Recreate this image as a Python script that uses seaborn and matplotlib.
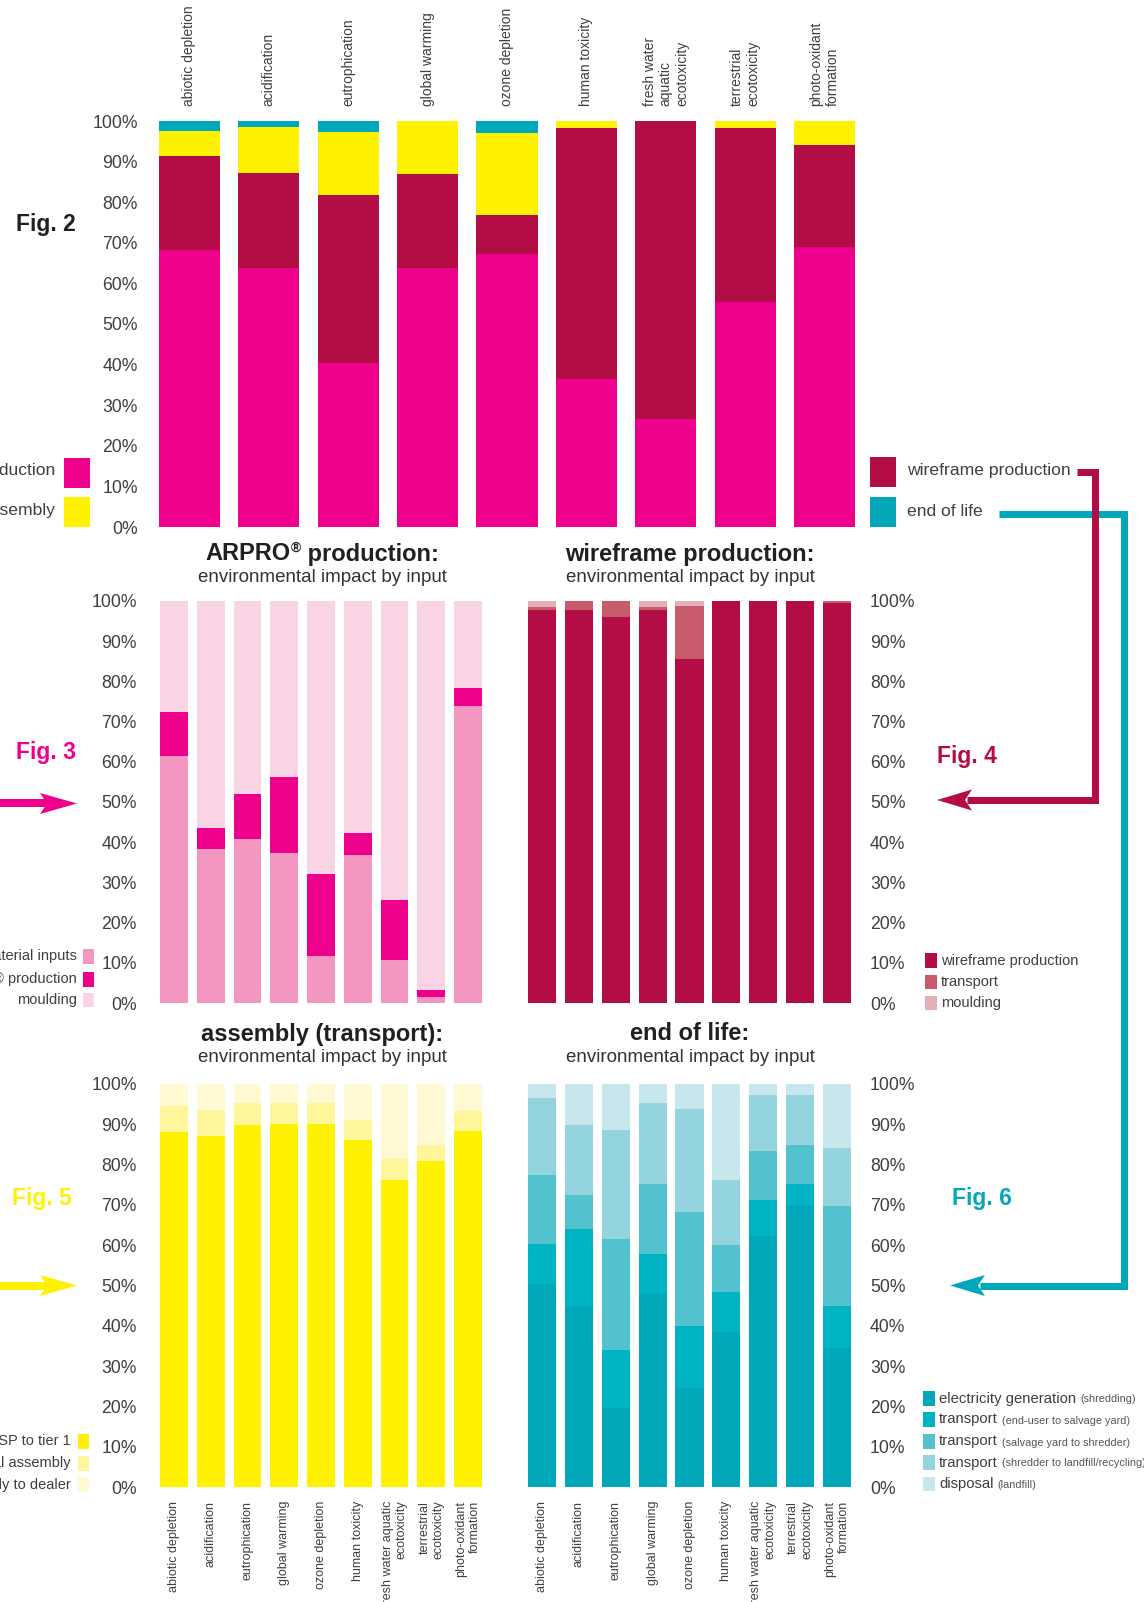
import numpy as np
import pandas as pd
import matplotlib
matplotlib.use("Agg")
import matplotlib.pyplot as plt
import seaborn as sns
from matplotlib.patches import Polygon, Rectangle
from matplotlib.lines import Line2D

# ---------------- data ----------------
categories = ["abiotic depletion", "acidification", "eutrophication", "global warming",
              "ozone depletion", "human toxicity", "fresh water aquatic ecotoxicity",
              "terrestrial ecotoxicity", "photo-oxidant formation"]
top_tick_labels = ["abiotic depletion", "acidification", "eutrophication", "global warming",
                   "ozone depletion", "human toxicity", "fresh water\naquatic\necotoxicity",
                   "terrestrial\necotoxicity", "photo-oxidant\nformation"]
bottom_tick_labels = ["abiotic depletion", "acidification", "eutrophication", "global warming",
                      "ozone depletion", "human toxicity", "fresh water aquatic\necotoxicity",
                      "terrestrial\necotoxicity", "photo-oxidant\nformation"]
y_ticks = [0, 10, 20, 30, 40, 50, 60, 70, 80, 90, 100]
y_tick_labels = [f"{v}%" for v in y_ticks]

# Fig. 2 - overall life cycle (bottom -> top)
fig2_arpro = [68.3, 63.8, 40.5, 63.8, 67.3, 36.5, 26.5, 55.3, 69.0]
fig2_wireframe = [23.0, 23.5, 41.3, 23.2, 9.5, 61.8, 73.5, 43.0, 25.0]
fig2_assembly = [6.2, 11.2, 15.5, 13.0, 20.2, 1.7, 0.0, 1.7, 6.0]
fig2_end_of_life = [2.5, 1.5, 2.7, 0.0, 3.0, 0.0, 0.0, 0.0, 0.0]
fig2_names = ["ARPRO® production", "wireframe production", "assembly", "end of life"]

# Fig. 3 - ARPRO production
fig3_material = [61.5, 38.3, 40.8, 37.2, 11.7, 36.7, 10.6, 1.5, 73.8]
fig3_arpro = [11.0, 5.2, 11.2, 19.0, 20.3, 5.6, 15.1, 1.7, 4.5]
fig3_moulding = [27.5, 56.5, 48.0, 43.8, 68.0, 57.7, 74.3, 96.8, 21.7]
fig3_names = ["material inputs", "ARPRO® production", "moulding"]

# Fig. 4 - wireframe production
fig4_wireframe = [97.8, 97.8, 96.1, 97.8, 85.5, 100.0, 100.0, 100.0, 99.4]
fig4_transport = [0.8, 2.2, 3.9, 0.8, 13.3, 0.0, 0.0, 0.0, 0.6]
fig4_moulding = [1.4, 0.0, 0.0, 1.4, 1.2, 0.0, 0.0, 0.0, 0.0]
fig4_names = ["wireframe production", "transport", "moulding"]

# Fig. 5 - assembly (transport)
fig5_tier1 = [88.0, 87.0, 89.8, 90.0, 90.0, 86.0, 76.3, 81.0, 88.3]
fig5_final = [6.5, 6.5, 5.5, 5.3, 5.3, 5.0, 5.0, 3.8, 5.0]
fig5_dealer = [5.5, 6.5, 4.7, 4.7, 4.7, 9.0, 18.7, 15.2, 6.7]
fig5_names = ["transport JSP to tier 1", "transport tier 1 to final assembly",
              "transport final assembly to dealer"]

# Fig. 6 - end of life
fig6_electricity = [50.3, 44.8, 19.5, 47.8, 24.5, 38.5, 62.3, 70.0, 34.5]
fig6_enduser = [10.0, 19.2, 14.5, 10.0, 15.5, 10.0, 9.0, 5.3, 10.5]
fig6_salvage = [17.0, 8.5, 27.5, 17.5, 28.3, 11.5, 12.0, 9.5, 24.8]
fig6_shredder = [19.2, 17.3, 27.0, 20.0, 25.5, 16.3, 14.0, 12.5, 14.3]
fig6_disposal = [3.5, 10.2, 11.5, 4.7, 6.2, 23.7, 2.7, 2.7, 15.9]
fig6_names = ["electricity generation", "transport", "transport", "transport", "disposal"]
fig6_notes = ["(shredding)", "(end-user to salvage yard)", "(salvage yard to shredder)",
              "(shredder to landfill/recycling)", "(landfill)"]

# ---------------- colours ----------------
MAGENTA = "#EC008C"
CRIMSON = "#B20D45"
YELLOW = "#FFF200"
TEAL = "#00A8B9"
fig2_colors = [MAGENTA, CRIMSON, YELLOW, TEAL]
fig3_colors = ["#F397C0", MAGENTA, "#F9D4E5"]
fig4_colors = [CRIMSON, "#C75B6B", "#E3B1B5"]
fig5_colors = [YELLOW, "#FFF59B", "#FFF9D4"]
fig6_colors = ["#00A7B8", "#00B3C3", "#52C2CE", "#93D4DE", "#C7E7EC"]

TXT = "#3f3f3f"
TITLE = "#231F20"

sns.set_theme(style="white")
plt.rcParams["font.family"] = ["Liberation Sans", "DejaVu Sans"]

W, H = 1144, 1602
fig = plt.figure(figsize=(W / 100, H / 100), dpi=100)
fig.patch.set_facecolor("white")


def px(x, y):
    return x / W, 1 - y / H


def add_ax(l, t, r, b):
    return fig.add_axes([l / W, 1 - b / H, (r - l) / W, (b - t) / H])


def stacked(ax, layers, colors, width):
    cum = np.cumsum(np.array(layers, dtype=float), axis=0)
    for i in range(len(layers) - 1, -1, -1):
        df = pd.DataFrame({"impact": categories, "share": cum[i]})
        sns.barplot(data=df, x="impact", y="share", order=categories, color=colors[i],
                    saturation=1, width=width, linewidth=0, edgecolor="none",
                    errorbar=None, ax=ax)


def style(ax, side="left", pad=10.0):
    ax.set_xlim(-0.5, 8.5)
    ax.set_ylim(0, 100)
    ax.set_xlabel("")
    ax.set_ylabel("")
    for s in ax.spines.values():
        s.set_visible(False)
    ax.grid(False)
    ax.set_facecolor("none")
    ax.set_yticks(y_ticks)
    ax.set_yticklabels(y_tick_labels)
    if side == "right":
        ax.yaxis.tick_right()
    ax.tick_params(axis="y", length=0, pad=pad, labelsize=12.7, labelcolor=TXT)


def ftext(x, y, s, **kw):
    fx, fy = px(x, y)
    return fig.text(fx, fy, s, **kw)


def frect(x0, y0, x1, y1, color):
    fx, fy = px(x0, y1)
    fig.add_artist(Rectangle((fx, fy), (x1 - x0) / W, (y1 - y0) / H,
                             transform=fig.transFigure, facecolor=color,
                             edgecolor="none", linewidth=0))


def fline(pts, color, lw_px):
    xs = [p[0] / W for p in pts]
    ys = [1 - p[1] / H for p in pts]
    fig.add_artist(Line2D(xs, ys, transform=fig.transFigure, color=color,
                          linewidth=lw_px * 0.72, solid_joinstyle="miter",
                          solid_capstyle="butt"))


def fhead(tip, back_x, half_h, notch, color):
    tx, ty = tip
    pts = [(tx, ty), (back_x, ty - half_h), (back_x + notch, ty), (back_x, ty + half_h)]
    fig.add_artist(Polygon([px(*p) for p in pts], closed=True, transform=fig.transFigure,
                           facecolor=color, edgecolor="none"))


# ---------------- Fig. 2 ----------------
ax2 = add_ax(149.8, 121, 864.2, 527)
stacked(ax2, [fig2_arpro, fig2_wireframe, fig2_assembly, fig2_end_of_life], fig2_colors, 0.77)
style(ax2, "left", pad=8.6)
ax2.xaxis.tick_top()
ax2.set_xticks(range(9))
ax2.set_xticklabels(top_tick_labels, rotation=90, ha="center", va="bottom",
                    multialignment="left", fontsize=10, color=TXT)
ax2.tick_params(axis="x", length=0, pad=10.8, labeltop=True, labelbottom=False)

# ---------------- Fig. 3 ----------------
ax3 = add_ax(155.6, 601, 486.4, 1003)
stacked(ax3, [fig3_material, fig3_arpro, fig3_moulding], fig3_colors, 0.76)
style(ax3, "left", pad=13.4)
ax3.set_xticks([])

# ---------------- Fig. 4 ----------------
ax4 = add_ax(523.6, 601, 855.4, 1003)
stacked(ax4, [fig4_wireframe, fig4_transport, fig4_moulding], fig4_colors, 0.76)
style(ax4, "right", pad=10.5)
ax4.set_xticks([])

# ---------------- Fig. 5 ----------------
ax5 = add_ax(155.6, 1084, 486.4, 1487)
stacked(ax5, [fig5_tier1, fig5_final, fig5_dealer], fig5_colors, 0.76)
style(ax5, "left", pad=13.4)
ax5.set_xticks(range(9))
ax5.set_xticklabels(bottom_tick_labels, rotation=90, ha="center", va="top",
                    multialignment="right", fontsize=9, color=TXT)
ax5.tick_params(axis="x", length=0, pad=9.9)

# ---------------- Fig. 6 ----------------
ax6 = add_ax(523.6, 1084, 855.4, 1487)
stacked(ax6, [fig6_electricity, fig6_enduser, fig6_salvage, fig6_shredder, fig6_disposal],
        fig6_colors, 0.76)
style(ax6, "right", pad=10.5)
ax6.set_xticks(range(9))
ax6.set_xticklabels(bottom_tick_labels, rotation=90, ha="center", va="top",
                    multialignment="right", fontsize=9, color=TXT)
ax6.tick_params(axis="x", length=0, pad=9.9)

# ---------------- titles ----------------
# ARPRO title is composed of three pieces (small superscript ®), laid out after measuring
arpro_parts = [
    ftext(0, 554, "ARPRO", ha="left", va="center", fontsize=17, fontweight="bold", color=TITLE),
    ftext(0, 548, "®", ha="left", va="center", fontsize=10, fontweight="bold", color=TITLE),
    ftext(0, 554, " production:", ha="left", va="center", fontsize=17, fontweight="bold",
          color=TITLE),
]
ftext(322, 577, "environmental impact by input", ha="center", va="center",
      fontsize=13.5, color="#333333")
ftext(690, 554, "wireframe production:", ha="center", va="center",
      fontsize=17, fontweight="bold", color=TITLE)
ftext(690, 577, "environmental impact by input", ha="center", va="center",
      fontsize=13.5, color="#333333")
ftext(322, 1034, "assembly (transport):", ha="center", va="center",
      fontsize=17, fontweight="bold", color=TITLE)
ftext(322, 1057, "environmental impact by input", ha="center", va="center",
      fontsize=13.5, color="#333333")
ftext(690, 1034, "end of life:", ha="center", va="center",
      fontsize=17, fontweight="bold", color=TITLE)
ftext(690, 1057, "environmental impact by input", ha="center", va="center",
      fontsize=13.5, color="#333333")

# ---------------- figure labels ----------------
ftext(16, 225, "Fig. 2", ha="left", va="center", fontsize=16.5, fontweight="bold", color=TITLE)
ftext(16, 753, "Fig. 3", ha="left", va="center", fontsize=16.5, fontweight="bold", color=MAGENTA)
ftext(937, 757, "Fig. 4", ha="left", va="center", fontsize=16.5, fontweight="bold", color=CRIMSON)
ftext(12, 1199, "Fig. 5", ha="left", va="center", fontsize=16.5, fontweight="bold", color=YELLOW)
ftext(952, 1199, "Fig. 6", ha="left", va="center", fontsize=16.5, fontweight="bold", color=TEAL)

# ---------------- legends ----------------
# Fig. 2 left
frect(64, 458, 90, 488, fig2_colors[0])
frect(64, 497, 90, 527, fig2_colors[2])
ftext(55, 471, fig2_names[0], ha="right", va="center", fontsize=12.6, color=TXT)
ftext(55, 511, fig2_names[2], ha="right", va="center", fontsize=12.6, color=TXT)
# Fig. 2 right
frect(870, 457, 896, 487, fig2_colors[1])
frect(870, 497, 896, 527, fig2_colors[3])
ftext(907, 471, fig2_names[1], ha="left", va="center", fontsize=12.6, color=TXT)
ftext(907, 511, fig2_names[3], ha="left", va="center", fontsize=12.6, color=TXT)

# Fig. 3 legend
for (y0, y1), c, n in zip([(949, 964), (972, 987), (993, 1007)], fig3_colors, fig3_names):
    frect(83, y0, 94, y1, c)
    ftext(77, (y0 + y1) / 2, n, ha="right", va="center", fontsize=10.5, color=TXT)

# Fig. 4 legend
for (y0, y1), c, n in zip([(953, 968), (975, 989), (996, 1010)], fig4_colors, fig4_names):
    frect(925, y0, 937, y1, c)
    ftext(941, (y0 + y1) / 2, n, ha="left", va="center", fontsize=10.5, color=TXT)

# Fig. 5 legend
for (y0, y1), c, n in zip([(1434, 1449), (1456, 1471), (1477, 1492)], fig5_colors, fig5_names):
    frect(78, y0, 89, y1, c)
    ftext(71, (y0 + y1) / 2, n, ha="right", va="center", fontsize=10.5, color=TXT)

# Fig. 6 legend
fig6_rows = [(1391, 1406), (1412, 1427), (1434, 1449), (1455, 1470), (1477, 1491)]
fig6_main_texts = []
for (y0, y1), c, n in zip(fig6_rows, fig6_colors, fig6_names):
    frect(923, y0, 935, y1, c)
    t = ftext(939, (y0 + y1) / 2, n, ha="left", va="center", fontsize=10.7, color=TXT)
    fig6_main_texts.append(t)

# ---------------- connectors & arrows ----------------
# teal: end of life -> Fig. 6
fline([(999, 513.5), (1124, 513.5), (1124, 1285.5), (980, 1285.5)], TEAL, 7)
fhead((950, 1285.5), 985, 10.5, -7, TEAL)
# crimson: wireframe production -> Fig. 4
fline([(1077, 472), (1094.5, 472), (1094.5, 800), (967, 800)], CRIMSON, 7)
fhead((937, 800), 972, 10.5, -7, CRIMSON)
# magenta arrow -> Fig. 3
fline([(0, 803.5), (47, 803.5)], MAGENTA, 8)
fhead((77, 803.5), 40, 10.5, 7, MAGENTA)
# yellow arrow -> Fig. 5
fline([(0, 1285.5), (47, 1285.5)], YELLOW, 8)
fhead((77, 1285.5), 40, 10.5, 7, YELLOW)

# ---------------- measured placements ----------------
fig.canvas.draw()
renderer = fig.canvas.get_renderer()

widths = [t.get_window_extent(renderer=renderer).width for t in arpro_parts]
x = 322 - sum(widths) / 2
for t, w in zip(arpro_parts, widths):
    t.set_x(x / W)
    x += w

for t, note, (y0, y1) in zip(fig6_main_texts, fig6_notes, fig6_rows):
    bb = t.get_window_extent(renderer=renderer)
    fig.text((bb.x1 + 4) / W, 1 - ((y0 + y1) / 2 + 1) / H, note, ha="left", va="center",
             fontsize=7.8, color="#555555")

fig.savefig("out.png", dpi=100, facecolor="white")
